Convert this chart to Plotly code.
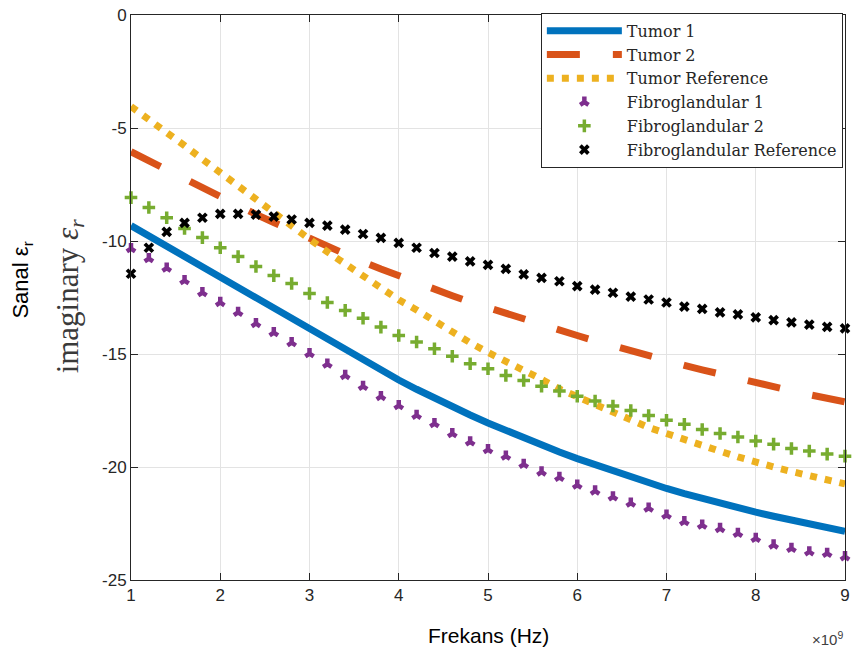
import plotly.graph_objects as go

freq = [1.0, 1.2, 1.4, 1.6, 1.8, 2.0, 2.2, 2.4, 2.6, 2.8, 3.0, 3.2, 3.4, 3.6, 3.8, 4.0,
        4.2, 4.4, 4.6, 4.8, 5.0, 5.2, 5.4, 5.6, 5.8, 6.0, 6.2, 6.4, 6.6, 6.8, 7.0,
        7.2, 7.4, 7.6, 7.8, 8.0, 8.2, 8.4, 8.6, 8.8, 9.0]

tumor1 = [-9.32, -9.78, -10.24, -10.70, -11.17, -11.63, -12.09, -12.55, -13.01, -13.47, -13.93,
          -14.39, -14.84, -15.29, -15.73, -16.15, -16.56, -16.96, -17.34, -17.70, -18.05,
          -18.39, -18.72, -19.04, -19.34, -19.63, -19.91, -20.19, -20.46, -20.71, -20.95,
          -21.18, -21.40, -21.61, -21.81, -22.00, -22.18, -22.36, -22.53, -22.69, -22.85]

tumor2 = [-6.05, -6.45, -6.85, -7.25, -7.68, -8.08, -8.45, -8.82, -9.18, -9.54, -9.89,
          -10.24, -10.58, -10.92, -11.24, -11.55, -11.85, -12.14, -12.42, -12.7, -12.96,
          -13.22, -13.48, -13.72, -13.95, -14.18, -14.42, -14.65, -14.88, -15.1, -15.3,
          -15.5, -15.7, -15.9, -16.1, -16.28, -16.46, -16.63, -16.8, -16.96, -17.12]

tumor_ref = [-4.05, -4.6, -5.2, -5.78, -6.38, -6.98, -7.6, -8.2, -8.8, -9.38, -9.92,
             -10.48, -11.02, -11.55, -12.1, -12.6, -13.05, -13.55, -14.02, -14.5, -14.93,
             -15.3, -15.7, -16.12, -16.55, -16.88, -17.25, -17.6, -17.95, -18.25, -18.52,
             -18.8, -19.05, -19.3, -19.55, -19.8, -20.0, -20.2, -20.4, -20.58, -20.75]

fibro1 = [-10.34, -10.78, -11.2, -11.75, -12.28, -12.72, -13.16, -13.65, -14.05, -14.5, -14.98,
          -15.45, -15.95, -16.43, -16.88, -17.28, -17.71, -18.08, -18.52, -18.89, -19.23,
          -19.52, -19.88, -20.22, -20.46, -20.8, -21.06, -21.32, -21.6, -21.82, -22.13,
          -22.42, -22.57, -22.72, -22.94, -23.16, -23.45, -23.6, -23.75, -23.82, -23.97]

fibro2 = [-8.08, -8.52, -8.97, -9.45, -9.85, -10.3, -10.69, -11.13, -11.53, -11.88, -12.32,
          -12.72, -13.07, -13.42, -13.81, -14.18, -14.47, -14.77, -15.1, -15.43, -15.65,
          -15.95, -16.17, -16.43, -16.64, -16.87, -17.08, -17.3, -17.5, -17.72, -17.93,
          -18.11, -18.34, -18.52, -18.67, -18.85, -18.99, -19.18, -19.29, -19.43, -19.52]

fibro_ref = [-11.45, -10.3, -9.6, -9.2, -8.97, -8.8, -8.8, -8.83, -8.92, -9.05, -9.2,
             -9.32, -9.5, -9.69, -9.86, -10.08, -10.3, -10.53, -10.69, -10.9, -11.06,
             -11.23, -11.48, -11.63, -11.78, -12.0, -12.15, -12.29, -12.46, -12.59, -12.72,
             -12.9, -13.0, -13.16, -13.25, -13.38, -13.5, -13.6, -13.7, -13.8, -13.87]

y_ticks = [-25, -20, -15, -10, -5, 0]
x_ticks = [1, 2, 3, 4, 5, 6, 7, 8, 9]

fig = go.Figure()
fig.add_trace(go.Scatter(x=freq, y=tumor1, mode="lines", name="Tumor 1",
                         line=dict(color="#0072BD", width=7)))
fig.add_trace(go.Scatter(x=freq, y=tumor2, mode="lines", name="Tumor 2",
                         line=dict(color="#D95319", width=7, dash="33px,33px")))
fig.add_trace(go.Scatter(x=freq, y=tumor_ref, mode="lines", name="Tumor Reference",
                         line=dict(color="#EDB120", width=7, dash="7px,8px")))
fig.add_trace(go.Scatter(x=freq, y=fibro1, mode="markers", name="Fibroglandular 1",
                         cliponaxis=False,
                         marker=dict(symbol="y-up", size=7, color="#7E2F8E",
                                     line=dict(color="#7E2F8E", width=4.5))))
fig.add_trace(go.Scatter(x=freq, y=fibro2, mode="markers", name="Fibroglandular 2",
                         cliponaxis=False,
                         marker=dict(symbol="cross-thin", size=9, color="#77AC30",
                                     line=dict(color="#77AC30", width=3.5))))
fig.add_trace(go.Scatter(x=freq, y=fibro_ref, mode="markers", name="Fibroglandular Reference",
                         cliponaxis=False,
                         marker=dict(symbol="x-thin", size=8, color="#000000",
                                     line=dict(color="#000000", width=3.8))))

axis_common = dict(showline=True, linecolor="#262626", linewidth=1, mirror="ticks",
                   ticks="inside", ticklen=7, tickcolor="#262626",
                   showgrid=True, gridcolor="#e3e3e3", gridwidth=1, zeroline=False,
                   tickfont=dict(family="Liberation Sans, Arial", size=17, color="#262626"))

fig.update_xaxes(range=[1, 9], tickvals=x_ticks, ticktext=[str(v) for v in x_ticks],
                 **axis_common)
fig.update_yaxes(range=[-25, 0], tickvals=y_ticks, ticktext=[str(v) for v in y_ticks],
                 **axis_common)

fig.update_layout(
    width=856, height=661,
    margin=dict(l=131, r=6, t=14, b=81),
    paper_bgcolor="white", plot_bgcolor="white",
    showlegend=True,
    legend=dict(x=0.997, y=1.004, xanchor="right", yanchor="top",
                bgcolor="white", bordercolor="#262626", borderwidth=1,
                font=dict(family="DejaVu Serif", size=16, color="#262626"),
                itemwidth=75, tracegroupgap=0),
    annotations=[
        dict(text="Frekans (Hz)", xref="paper", yref="paper", x=0.5, y=0,
             yshift=-55, xanchor="center", yanchor="middle", showarrow=False,
             font=dict(family="Liberation Sans, Arial", size=21, color="#000000")),
        dict(text="Sanal ε<sub>r</sub>", xref="paper", yref="paper", x=0, xshift=-109,
             y=0.53, textangle=-90, xanchor="center", yanchor="middle", showarrow=False,
             font=dict(family="Liberation Sans, Arial", size=22, color="#000000")),
        dict(text="imaginary <i>ε<sub>r</sub></i>", xref="paper", yref="paper", x=0,
             xshift=-61, y=0.502, textangle=-90, xanchor="center", yanchor="middle",
             showarrow=False,
             font=dict(family="Liberation Serif, Times New Roman", size=31, color="#3a3a3a")),
        dict(text="×10<sup>9</sup>", xref="paper", yref="paper", x=1, xshift=0,
             y=0, yshift=-58, xanchor="right", yanchor="middle", showarrow=False,
             font=dict(family="Liberation Sans, Arial", size=15, color="#404040")),
    ],
)

fig.write_html("out.html")
